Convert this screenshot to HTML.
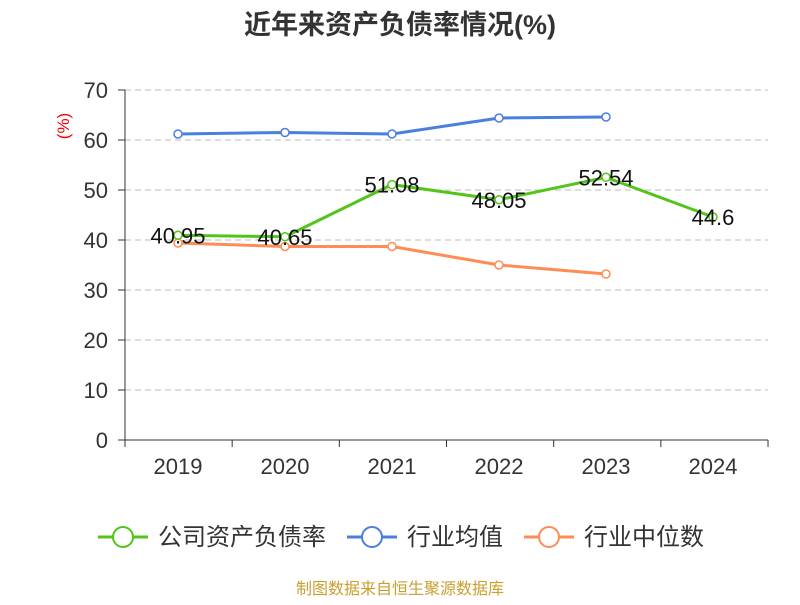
<!DOCTYPE html>
<html><head><meta charset="utf-8"><style>
body{margin:0;background:#fff;font-family:"Liberation Sans","Noto Sans CJK SC",sans-serif}
</style></head><body>
<svg id="c" width="800" height="600" xmlns="http://www.w3.org/2000/svg">
<text x="400" y="34" text-anchor="middle" font-size="27" font-weight="bold" fill="#333" font-family="Liberation Sans,Noto Sans CJK SC,sans-serif">近年来资产负债率情况(%)</text>
<text transform="translate(69,126) rotate(-90)" text-anchor="middle" font-size="17" fill="#e00">(%)</text>
<g id="grid"></g><g id="marks"></g>
<g font-size="24" fill="#333" font-family="Liberation Sans,Noto Sans CJK SC,sans-serif">
<g><line x1="98" y1="537" x2="148" y2="537" stroke="#52c41a" stroke-width="3"/><circle cx="123" cy="537" r="10" fill="#fff" stroke="#52c41a" stroke-width="2"/><text x="158" y="545">公司资产负债率</text></g>
<g><line x1="347" y1="537" x2="397" y2="537" stroke="#4a7fe0" stroke-width="3"/><circle cx="372" cy="537" r="10" fill="#fff" stroke="#4a7fe0" stroke-width="2"/><text x="407" y="545">行业均值</text></g>
<g><line x1="524" y1="537" x2="574" y2="537" stroke="#ff8c55" stroke-width="3"/><circle cx="549" cy="537" r="10" fill="#fff" stroke="#ff8c55" stroke-width="2"/><text x="584" y="545">行业中位数</text></g>
</g>
<text x="400" y="594" text-anchor="middle" font-size="16" fill="#c8a030">制图数据来自恒生聚源数据库</text>
</svg>
<script>
const categories=["2019","2020","2021","2022","2023","2024"];
const company=[40.95,40.65,51.08,48.05,52.54,44.6];
const industryAvg=[61.2,61.5,61.2,64.4,64.6];
const industryMedian=[39.4,38.7,38.7,35.0,33.2];
const yTicks=[0,10,20,30,40,50,60,70];
const NS="http://www.w3.org/2000/svg";
const x=i=>178+i*107, y=v=>440-v*5;
const grid=document.getElementById('grid'), marks=document.getElementById('marks');
function mk(tag,attrs,parent){const e=document.createElementNS(NS,tag);for(const k in attrs)e.setAttribute(k,attrs[k]);parent.appendChild(e);return e;}
yTicks.forEach(t=>{
 if(t>0){const g=mk('line',{x1:125,x2:768,y1:y(t),y2:y(t),stroke:'#bbb','stroke-dasharray':'6,4'},grid);
 
 }
 const tk=mk('line',{x1:118,x2:125,y1:y(t),y2:y(t),stroke:'#333'},grid);
 
 
 const l=mk('text',{x:108,y:y(t)+8,'text-anchor':'end','font-size':22,fill:'#333'},grid);l.textContent=t;
 
 
});
const ya=mk('line',{x1:125,x2:125,y1:90,y2:440,stroke:'#333'},grid);


const xa=mk('line',{x1:125,x2:768,y1:440,y2:440,stroke:'#333'},grid);


for(let i=0;i<=categories.length;i++){const t=mk('line',{x1:125+i*107.17,x2:125+i*107.17,y1:440,y2:447,stroke:'#333'},grid);
 
 }
categories.forEach((c,i)=>{const l=mk('text',{x:x(i),y:474,'text-anchor':'middle','font-size':22,fill:'#333'},grid);l.textContent=c;
 
 });
function series(data,color,name,labels){
 const p=mk('polyline',{points:data.map((v,i)=>x(i)+','+y(v)).join(' '),fill:'none',stroke:color,'stroke-width':3},marks);
 
 
 data.forEach((v,i)=>{const c=mk('circle',{cx:x(i),cy:y(v),r:4,fill:'#fff',stroke:color,'stroke-width':1.5},marks);
  
  
  if(labels){const t=mk('text',{x:x(i),y:y(v)+8,'text-anchor':'middle','font-size':22,fill:'#111'},marks);t.textContent=v;
   
   }
 });
}
series(industryAvg,'#4a7fe0','industry-avg',false);
series(industryMedian,'#ff8c55','industry-median',false);
series(company,'#52c41a','company',true);
</script>
</body></html>
